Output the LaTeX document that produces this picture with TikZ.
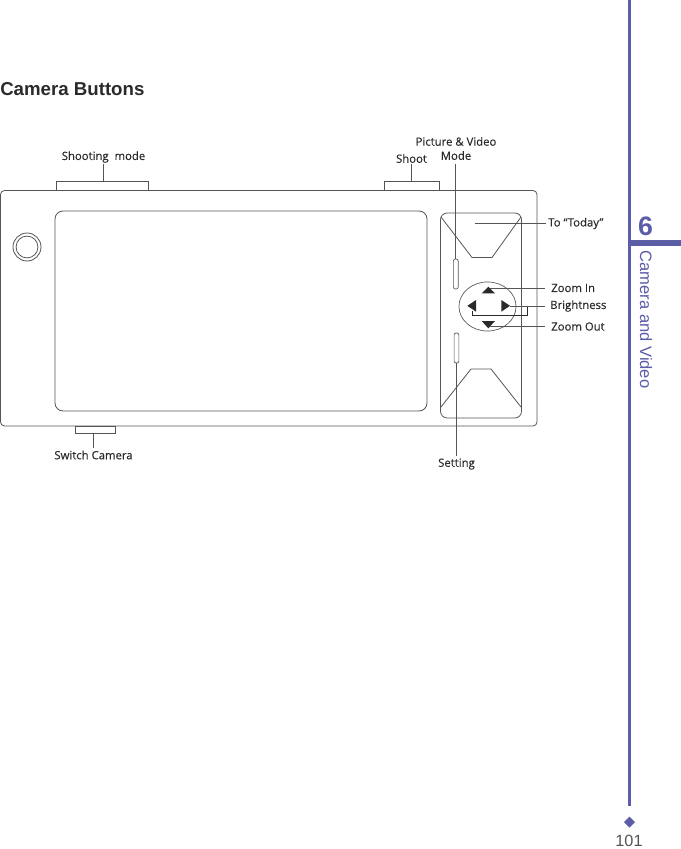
\documentclass[tikz,border=0pt]{standalone}
\usepackage{fontspec}
\setmainfont{Liberation Sans}
\newfontfamily\lblfont[FakeBold=0.2]{Open Sans}
\usetikzlibrary{shapes.geometric}
\definecolor{sidebar}{HTML}{5B5EA6}
\definecolor{ink}{HTML}{2A2A2A}
\definecolor{edge}{HTML}{555555}
\tikzset{
  x=0.75pt,y=-0.75pt,
  outline/.style={draw=edge,line width=0.6pt},
  lead/.style={draw=edge,line width=0.5pt},
  lbl/.style={inner sep=0pt,font=\lblfont\fontsize{8.5}{10.6}\selectfont,text=ink,align=center},
  tabbox/.style={draw=edge,line width=0.6pt,inner sep=0pt},
  tri/.style={fill=ink,draw=none},
}
\begin{document}
\begin{tikzpicture}
\useasboundingbox (0,0) rectangle (681,849);
\fill[white] (0,0) rectangle (681,849);
% sidebar
\fill[sidebar] (628,0) rectangle (631,806);
\fill[sidebar] (628,240) rectangle (681,246);
\node[inner sep=0pt,text=sidebar,font=\bfseries\fontsize{20}{24}\selectfont] (chap) at (645.5,226) {6};
\node[inner sep=0pt,rotate=-90,text=sidebar,font=\fontsize{12.4}{14}\selectfont] (chapt) at (646,319.5) {Camera and Video};
\fill[sidebar] (629.5,816.5) -- (635,822) -- (629.5,827.5) -- (624,822) -- cycle;
\node[inner sep=0pt,text=edge,font=\fontsize{12.2}{14}\selectfont] (page) at (629,841) {101};
\node[inner sep=0pt,anchor=west,text=ink,font=\bfseries\fontsize{14}{17}\selectfont] (title) at (0,89) {Camera Buttons};
% device
\draw[outline,rounded corners=3pt] (0.5,190.5) rectangle (537,426);
\draw[outline,rounded corners=6pt] (55,211) rectangle (427,411);
\draw[outline] (27,247) circle[radius=10.5pt];
\draw[outline] (27,247) circle[radius=8.2pt];
% tabs
\node[tabbox,minimum width=69pt,minimum height=7pt] (tabmode) at (102.5,185.8) {};
\node[tabbox,minimum width=41.25pt,minimum height=7pt] (tabshoot) at (412,185.8) {};
\node[tabbox,minimum width=30pt,minimum height=5.6pt] (tabswitch) at (95.5,429.8) {};
% right panel
\draw[outline,rounded corners=5pt] (440.5,213) rectangle (521.5,418);
\draw[outline] (441,217) -- (472,257.5) -- (492,257.5) -- (521,217);
\draw[outline] (441,407) -- (471,369) -- (491,369) -- (521,407);
\node[draw=edge,line width=0.5pt,rounded corners=1.5pt,inner sep=0pt,minimum width=3.6pt,minimum height=22.5pt] (slitup) at (455.8,274) {};
\node[draw=edge,line width=0.5pt,rounded corners=1.5pt,inner sep=0pt,minimum width=3.6pt,minimum height=22.5pt] (slitdown) at (456.5,348) {};
\node[ellipse,draw=edge,line width=0.5pt,inner sep=0pt,minimum width=42.8pt,minimum height=36.8pt] (pad) at (487.5,306.5) {};
\fill[tri] (481.7,293.3) -- (488.3,286.7) -- (495,293.3) -- cycle;
\fill[tri] (481.7,321) -- (488.3,328.3) -- (495,321) -- cycle;
\fill[tri] (476,300) -- (467.3,305.8) -- (476,311.7) -- cycle;
\fill[tri] (501.3,300) -- (510,305.8) -- (501.3,311.7) -- cycle;
\draw[draw=ink,line width=0.7pt] (472.3,311) -- (472.3,315) -- (527.3,315) -- (527.3,306);
% labels
\node[lbl] (lmode) at (103.5,157) {Shooting\ \ mode};
\node[lbl] (lshoot) at (411.5,158.5) {Shoot};
\node[lbl] (lpic) at (456,148.5) {Picture \& Video\\Mode};
\node[lbl,anchor=west] (ltoday) at (548,223.5) {To “Today”};
\node[lbl,anchor=west] (lin) at (551,288) {Zoom In};
\node[lbl,anchor=west] (lbright) at (550,306) {Brightness};
\node[lbl,anchor=west] (lout) at (551,326.5) {Zoom Out};
\node[lbl] (lset) at (456.5,464) {Setting};
\node[lbl] (lswitch) at (93.5,455) {Switch Camera};
% leaders
\coordinate (todayend) at (475,223.5);
\coordinate (inend) at (490,288);
\coordinate (brightend) at (510,306);
\coordinate (outend) at (490,326.5);
\path[lead,shorten >=1pt] (tabmode.north -| lmode.south) -- (lmode.south);
\path[lead,shorten >=1pt] (tabshoot.north -| lshoot.south) -- (lshoot.south);
\path[lead,shorten >=2.5pt] (slitup.north) -- (slitup.north |- lpic.south);
\path[lead,shorten >=1.5pt] (slitdown.south) -- (slitdown.south |- lset.north);
\path[lead,shorten >=1.5pt] (tabswitch.south -| lswitch.north) -- (lswitch.north);
\path[lead,shorten >=1.5pt] (todayend) -- (ltoday.west);
\path[lead,shorten >=4.5pt] (inend) -- (lin.west);
\path[lead,shorten >=3.7pt] (brightend) -- (lbright.west);
\path[lead,shorten >=4.5pt] (outend) -- (lout.west);
\end{tikzpicture}
\end{document}
